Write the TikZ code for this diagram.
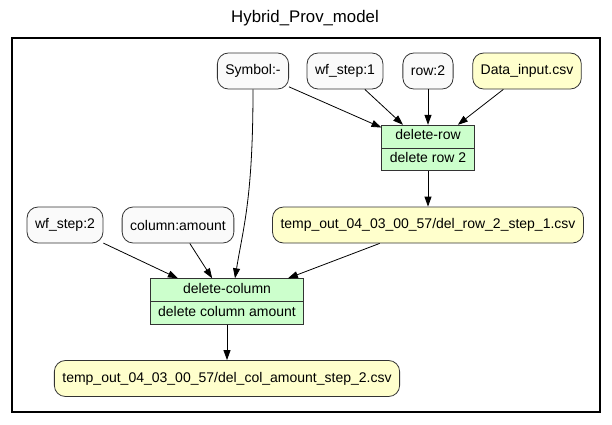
\documentclass[tikz,border=0pt]{standalone}
\usepackage{fontspec}
\setmainfont{Liberation Sans}
\usetikzlibrary{arrows.meta,shapes.multipart}
\definecolor{paramfill}{HTML}{FAFAFA}
\definecolor{filefill}{HTML}{FFFFCC}
\definecolor{procfill}{HTML}{CCFFCC}
\begin{document}
\begin{tikzpicture}[x=1pt, y=-1pt,
  every node/.style={font=\fontsize{14pt}{16.8pt}\selectfont},
  param/.style={draw=black!80, line width=0.8pt, fill=paramfill, rounded corners=11pt, minimum height=36pt, inner xsep=8pt},
  file/.style={param, fill=filefill},
  proc/.style={draw=black!80, line width=0.8pt, fill=procfill, rectangle split, rectangle split parts=2, inner xsep=8pt, inner ysep=2.6pt},
  flow/.style={line width=0.8pt, -{Triangle[length=10pt, width=7pt]}}]
\useasboundingbox (0,0) rectangle (612,424);
\node[font=\fontsize{16.8pt}{20pt}\selectfont] (title) at (305,18) {Hybrid\_Prov\_model};
\draw[line width=1.6pt] (12,38) rectangle (600,412);
\node[param] (sym) at (253,71) {Symbol:-};
\node[param] (wf1) at (345,71) {wf\_step:1};
\node[param] (row) at (428,71) {row:2};
\node[file] (din) at (527,71) {Data\_input.csv};
\node[proc] (drow) at (428,148) {\strut delete-row \nodepart{two} \strut delete row 2};
\node[file] (out1) at (428,225) {temp\_out\_04\_03\_00\_57/del\_row\_2\_step\_1.csv};
\node[param] (wf2) at (65,225) {wf\_step:2};
\node[param] (col) at (178,225) {column:amount};
\node[proc] (dcol) at (227,301.5) {\strut delete-column \nodepart{two} \strut delete column amount};
\node[file] (out2) at (227,378.5) {temp\_out\_04\_03\_00\_57/del\_col\_amount\_step\_2.csv};
\draw[flow] (sym) -- (drow);
\draw[flow] (wf1) -- (drow);
\draw[flow] (row) -- (drow);
\draw[flow] (din) -- (drow);
\draw[flow] (drow) -- (out1);
\draw[flow] (wf2) -- (dcol);
\draw[flow] (col) -- (dcol);
\draw[flow] (out1) -- (dcol);
\draw[flow] (sym.south) .. controls +(0,110) and +(8,-50) .. ([xshift=8pt]dcol.north);
\draw[flow] (dcol) -- (out2);
\end{tikzpicture}
\end{document}
